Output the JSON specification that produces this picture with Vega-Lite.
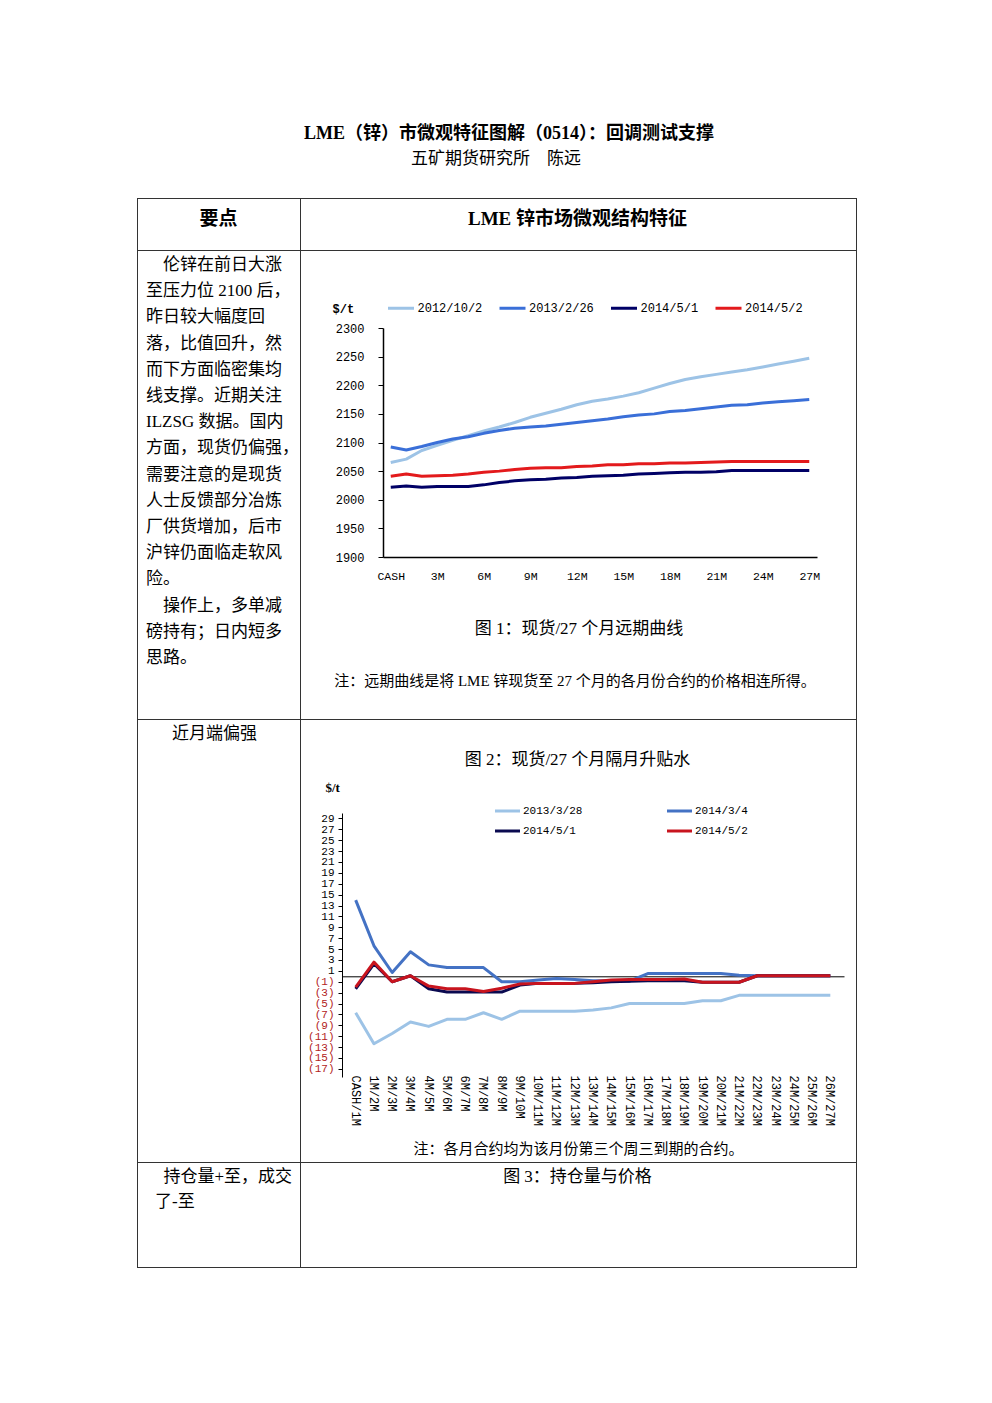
{
  "$schema": "https://vega.github.io/schema/vega-lite/v6.json",
  "background": "#ffffff",
  "padding": 0,
  "spacing": 0,
  "resolve": {"scale": {"color": "independent"}, "legend": {"color": "independent"}},
  "config": {
    "view": {"stroke": null},
    "concat": {"spacing": 0},
    "axis": {"grid": false},
    "text": {"font": "Liberation Serif, Noto Sans CJK SC", "color": "#000000"}
  },
  "datasets": {
    "curve": [
      {"tenor":"CASH","date":"2012/10/2","price":2065},{"tenor":"1M","date":"2012/10/2","price":2071},{"tenor":"2M","date":"2012/10/2","price":2086},{"tenor":"3M","date":"2012/10/2","price":2095},{"tenor":"4M","date":"2012/10/2","price":2104},{"tenor":"5M","date":"2012/10/2","price":2112},{"tenor":"6M","date":"2012/10/2","price":2120},{"tenor":"7M","date":"2012/10/2","price":2127},{"tenor":"8M","date":"2012/10/2","price":2135},{"tenor":"9M","date":"2012/10/2","price":2144},{"tenor":"10M","date":"2012/10/2","price":2151},{"tenor":"11M","date":"2012/10/2","price":2158},{"tenor":"12M","date":"2012/10/2","price":2166},{"tenor":"13M","date":"2012/10/2","price":2172},{"tenor":"14M","date":"2012/10/2","price":2176},{"tenor":"15M","date":"2012/10/2","price":2181},{"tenor":"16M","date":"2012/10/2","price":2187},{"tenor":"17M","date":"2012/10/2","price":2195},{"tenor":"18M","date":"2012/10/2","price":2203},{"tenor":"19M","date":"2012/10/2","price":2210},{"tenor":"20M","date":"2012/10/2","price":2215},{"tenor":"21M","date":"2012/10/2","price":2219},{"tenor":"22M","date":"2012/10/2","price":2223},{"tenor":"23M","date":"2012/10/2","price":2227},{"tenor":"24M","date":"2012/10/2","price":2232},{"tenor":"25M","date":"2012/10/2","price":2237},{"tenor":"26M","date":"2012/10/2","price":2242},{"tenor":"27M","date":"2012/10/2","price":2247},
      {"tenor":"CASH","date":"2013/2/26","price":2092},{"tenor":"1M","date":"2013/2/26","price":2087},{"tenor":"2M","date":"2013/2/26","price":2093},{"tenor":"3M","date":"2013/2/26","price":2100},{"tenor":"4M","date":"2013/2/26","price":2106},{"tenor":"5M","date":"2013/2/26","price":2110},{"tenor":"6M","date":"2013/2/26","price":2116},{"tenor":"7M","date":"2013/2/26","price":2121},{"tenor":"8M","date":"2013/2/26","price":2125},{"tenor":"9M","date":"2013/2/26","price":2127},{"tenor":"10M","date":"2013/2/26","price":2129},{"tenor":"11M","date":"2013/2/26","price":2132},{"tenor":"12M","date":"2013/2/26","price":2135},{"tenor":"13M","date":"2013/2/26","price":2138},{"tenor":"14M","date":"2013/2/26","price":2141},{"tenor":"15M","date":"2013/2/26","price":2145},{"tenor":"16M","date":"2013/2/26","price":2148},{"tenor":"17M","date":"2013/2/26","price":2150},{"tenor":"18M","date":"2013/2/26","price":2154},{"tenor":"19M","date":"2013/2/26","price":2156},{"tenor":"20M","date":"2013/2/26","price":2159},{"tenor":"21M","date":"2013/2/26","price":2162},{"tenor":"22M","date":"2013/2/26","price":2165},{"tenor":"23M","date":"2013/2/26","price":2166},{"tenor":"24M","date":"2013/2/26","price":2169},{"tenor":"25M","date":"2013/2/26","price":2171},{"tenor":"26M","date":"2013/2/26","price":2173},{"tenor":"27M","date":"2013/2/26","price":2175},
      {"tenor":"CASH","date":"2014/5/1","price":2022},{"tenor":"1M","date":"2014/5/1","price":2024},{"tenor":"2M","date":"2014/5/1","price":2022},{"tenor":"3M","date":"2014/5/1","price":2023},{"tenor":"4M","date":"2014/5/1","price":2023},{"tenor":"5M","date":"2014/5/1","price":2023},{"tenor":"6M","date":"2014/5/1","price":2026},{"tenor":"7M","date":"2014/5/1","price":2030},{"tenor":"8M","date":"2014/5/1","price":2033},{"tenor":"9M","date":"2014/5/1","price":2035},{"tenor":"10M","date":"2014/5/1","price":2036},{"tenor":"11M","date":"2014/5/1","price":2038},{"tenor":"12M","date":"2014/5/1","price":2039},{"tenor":"13M","date":"2014/5/1","price":2041},{"tenor":"14M","date":"2014/5/1","price":2042},{"tenor":"15M","date":"2014/5/1","price":2043},{"tenor":"16M","date":"2014/5/1","price":2045},{"tenor":"17M","date":"2014/5/1","price":2046},{"tenor":"18M","date":"2014/5/1","price":2047},{"tenor":"19M","date":"2014/5/1","price":2048},{"tenor":"20M","date":"2014/5/1","price":2048},{"tenor":"21M","date":"2014/5/1","price":2049},{"tenor":"22M","date":"2014/5/1","price":2051},{"tenor":"23M","date":"2014/5/1","price":2051},{"tenor":"24M","date":"2014/5/1","price":2051},{"tenor":"25M","date":"2014/5/1","price":2051},{"tenor":"26M","date":"2014/5/1","price":2051},{"tenor":"27M","date":"2014/5/1","price":2051},
      {"tenor":"CASH","date":"2014/5/2","price":2041},{"tenor":"1M","date":"2014/5/2","price":2045},{"tenor":"2M","date":"2014/5/2","price":2041},{"tenor":"3M","date":"2014/5/2","price":2042},{"tenor":"4M","date":"2014/5/2","price":2043},{"tenor":"5M","date":"2014/5/2","price":2045},{"tenor":"6M","date":"2014/5/2","price":2048},{"tenor":"7M","date":"2014/5/2","price":2050},{"tenor":"8M","date":"2014/5/2","price":2053},{"tenor":"9M","date":"2014/5/2","price":2055},{"tenor":"10M","date":"2014/5/2","price":2056},{"tenor":"11M","date":"2014/5/2","price":2056},{"tenor":"12M","date":"2014/5/2","price":2058},{"tenor":"13M","date":"2014/5/2","price":2059},{"tenor":"14M","date":"2014/5/2","price":2061},{"tenor":"15M","date":"2014/5/2","price":2061},{"tenor":"16M","date":"2014/5/2","price":2063},{"tenor":"17M","date":"2014/5/2","price":2063},{"tenor":"18M","date":"2014/5/2","price":2064},{"tenor":"19M","date":"2014/5/2","price":2064},{"tenor":"20M","date":"2014/5/2","price":2065},{"tenor":"21M","date":"2014/5/2","price":2066},{"tenor":"22M","date":"2014/5/2","price":2067},{"tenor":"23M","date":"2014/5/2","price":2067},{"tenor":"24M","date":"2014/5/2","price":2067},{"tenor":"25M","date":"2014/5/2","price":2067},{"tenor":"26M","date":"2014/5/2","price":2067},{"tenor":"27M","date":"2014/5/2","price":2067}
    ],
    "spread": [
      {"pair":"CASH/1M","date":"2013/3/28","spread":-6.7},{"pair":"1M/2M","date":"2013/3/28","spread":-12.4},{"pair":"2M/3M","date":"2013/3/28","spread":-10.5},{"pair":"3M/4M","date":"2013/3/28","spread":-8.4},{"pair":"4M/5M","date":"2013/3/28","spread":-9.2},{"pair":"5M/6M","date":"2013/3/28","spread":-7.9},{"pair":"6M/7M","date":"2013/3/28","spread":-7.9},{"pair":"7M/8M","date":"2013/3/28","spread":-6.7},{"pair":"8M/9M","date":"2013/3/28","spread":-7.9},{"pair":"9M/10M","date":"2013/3/28","spread":-6.4},{"pair":"10M/11M","date":"2013/3/28","spread":-6.4},{"pair":"11M/12M","date":"2013/3/28","spread":-6.4},{"pair":"12M/13M","date":"2013/3/28","spread":-6.4},{"pair":"13M/14M","date":"2013/3/28","spread":-6.2},{"pair":"14M/15M","date":"2013/3/28","spread":-5.8},{"pair":"15M/16M","date":"2013/3/28","spread":-5.0},{"pair":"16M/17M","date":"2013/3/28","spread":-5.0},{"pair":"17M/18M","date":"2013/3/28","spread":-5.0},{"pair":"18M/19M","date":"2013/3/28","spread":-5.0},{"pair":"19M/20M","date":"2013/3/28","spread":-4.5},{"pair":"20M/21M","date":"2013/3/28","spread":-4.5},{"pair":"21M/22M","date":"2013/3/28","spread":-3.5},{"pair":"22M/23M","date":"2013/3/28","spread":-3.5},{"pair":"23M/24M","date":"2013/3/28","spread":-3.5},{"pair":"24M/25M","date":"2013/3/28","spread":-3.5},{"pair":"25M/26M","date":"2013/3/28","spread":-3.5},{"pair":"26M/27M","date":"2013/3/28","spread":-3.5},
      {"pair":"CASH/1M","date":"2014/3/4","spread":14.0},{"pair":"1M/2M","date":"2014/3/4","spread":5.6},{"pair":"2M/3M","date":"2014/3/4","spread":0.7},{"pair":"3M/4M","date":"2014/3/4","spread":4.5},{"pair":"4M/5M","date":"2014/3/4","spread":2.1},{"pair":"5M/6M","date":"2014/3/4","spread":1.6},{"pair":"6M/7M","date":"2014/3/4","spread":1.6},{"pair":"7M/8M","date":"2014/3/4","spread":1.6},{"pair":"8M/9M","date":"2014/3/4","spread":-1.0},{"pair":"9M/10M","date":"2014/3/4","spread":-1.0},{"pair":"10M/11M","date":"2014/3/4","spread":-0.7},{"pair":"11M/12M","date":"2014/3/4","spread":-0.4},{"pair":"12M/13M","date":"2014/3/4","spread":-0.6},{"pair":"13M/14M","date":"2014/3/4","spread":-0.8},{"pair":"14M/15M","date":"2014/3/4","spread":-0.8},{"pair":"15M/16M","date":"2014/3/4","spread":-0.9},{"pair":"16M/17M","date":"2014/3/4","spread":0.5},{"pair":"17M/18M","date":"2014/3/4","spread":0.5},{"pair":"18M/19M","date":"2014/3/4","spread":0.5},{"pair":"19M/20M","date":"2014/3/4","spread":0.5},{"pair":"20M/21M","date":"2014/3/4","spread":0.5},{"pair":"21M/22M","date":"2014/3/4","spread":0.2},{"pair":"22M/23M","date":"2014/3/4","spread":0.1},{"pair":"23M/24M","date":"2014/3/4","spread":0.1},{"pair":"24M/25M","date":"2014/3/4","spread":0.1},{"pair":"25M/26M","date":"2014/3/4","spread":0.1},{"pair":"26M/27M","date":"2014/3/4","spread":0.1},
      {"pair":"CASH/1M","date":"2014/5/1","spread":-2.3},{"pair":"1M/2M","date":"2014/5/1","spread":2.3},{"pair":"2M/3M","date":"2014/5/1","spread":-1.0},{"pair":"3M/4M","date":"2014/5/1","spread":0.1},{"pair":"4M/5M","date":"2014/5/1","spread":-2.3},{"pair":"5M/6M","date":"2014/5/1","spread":-2.9},{"pair":"6M/7M","date":"2014/5/1","spread":-2.9},{"pair":"7M/8M","date":"2014/5/1","spread":-2.9},{"pair":"8M/9M","date":"2014/5/1","spread":-2.9},{"pair":"9M/10M","date":"2014/5/1","spread":-1.6},{"pair":"10M/11M","date":"2014/5/1","spread":-1.3},{"pair":"11M/12M","date":"2014/5/1","spread":-1.3},{"pair":"12M/13M","date":"2014/5/1","spread":-1.3},{"pair":"13M/14M","date":"2014/5/1","spread":-1.2},{"pair":"14M/15M","date":"2014/5/1","spread":-1.0},{"pair":"15M/16M","date":"2014/5/1","spread":-0.9},{"pair":"16M/17M","date":"2014/5/1","spread":-0.8},{"pair":"17M/18M","date":"2014/5/1","spread":-0.8},{"pair":"18M/19M","date":"2014/5/1","spread":-0.8},{"pair":"19M/20M","date":"2014/5/1","spread":-1.1},{"pair":"20M/21M","date":"2014/5/1","spread":-1.1},{"pair":"21M/22M","date":"2014/5/1","spread":-1.1},{"pair":"22M/23M","date":"2014/5/1","spread":0.1},{"pair":"23M/24M","date":"2014/5/1","spread":0.1},{"pair":"24M/25M","date":"2014/5/1","spread":0.1},{"pair":"25M/26M","date":"2014/5/1","spread":0.1},{"pair":"26M/27M","date":"2014/5/1","spread":0.1},
      {"pair":"CASH/1M","date":"2014/5/2","spread":-2.0},{"pair":"1M/2M","date":"2014/5/2","spread":2.6},{"pair":"2M/3M","date":"2014/5/2","spread":-1.0},{"pair":"3M/4M","date":"2014/5/2","spread":0.1},{"pair":"4M/5M","date":"2014/5/2","spread":-1.8},{"pair":"5M/6M","date":"2014/5/2","spread":-2.3},{"pair":"6M/7M","date":"2014/5/2","spread":-2.3},{"pair":"7M/8M","date":"2014/5/2","spread":-2.8},{"pair":"8M/9M","date":"2014/5/2","spread":-2.2},{"pair":"9M/10M","date":"2014/5/2","spread":-1.4},{"pair":"10M/11M","date":"2014/5/2","spread":-1.3},{"pair":"11M/12M","date":"2014/5/2","spread":-1.3},{"pair":"12M/13M","date":"2014/5/2","spread":-1.3},{"pair":"13M/14M","date":"2014/5/2","spread":-1.0},{"pair":"14M/15M","date":"2014/5/2","spread":-0.7},{"pair":"15M/16M","date":"2014/5/2","spread":-0.6},{"pair":"16M/17M","date":"2014/5/2","spread":-0.6},{"pair":"17M/18M","date":"2014/5/2","spread":-0.6},{"pair":"18M/19M","date":"2014/5/2","spread":-0.5},{"pair":"19M/20M","date":"2014/5/2","spread":-1.1},{"pair":"20M/21M","date":"2014/5/2","spread":-1.1},{"pair":"21M/22M","date":"2014/5/2","spread":-1.1},{"pair":"22M/23M","date":"2014/5/2","spread":0.1},{"pair":"23M/24M","date":"2014/5/2","spread":0.1},{"pair":"24M/25M","date":"2014/5/2","spread":0.1},{"pair":"25M/26M","date":"2014/5/2","spread":0.1},{"pair":"26M/27M","date":"2014/5/2","spread":0.1}
    ]
  },
  "vconcat": [
    {
      "width": 992, "height": 198,
      "layer": [
        {"data": {"values": [{"t": "LME（锌）市微观特征图解（0514）：回调测试支撑"}]}, "mark": {"type": "text", "fontSize": 18, "fontWeight": "bold", "baseline": "middle", "dx": 13, "dy": 35}, "encoding": {"text": {"field": "t"}}},
        {"data": {"values": [{"t": "五矿期货研究所　陈远"}]}, "mark": {"type": "text", "fontSize": 17, "baseline": "middle", "dx": 0, "dy": 60}, "encoding": {"text": {"field": "t"}}}
      ]
    },
    {"spacing": 0, "hconcat": [
      {"width": 137, "height": 1, "mark": "point", "data": {"values": []}},
      {"width": 720, "height": 1, "view": {"fill": "#333333", "stroke": null}, "mark": "point", "data": {"values": []}}
    ]},
    {"spacing": 0, "hconcat": [
      {"width": 137, "height": 51, "mark": "point", "data": {"values": []}},
      {"width": 1, "height": 51, "view": {"fill": "#333333", "stroke": null}, "mark": "point", "data": {"values": []}},
      {"width": 162, "height": 51, "data": {"values": [{"t": "要点"}]}, "mark": {"type": "text", "fontSize": 19, "fontWeight": "bold", "baseline": "middle", "dx": -0.5, "dy": -5.5}, "encoding": {"text": {"field": "t"}}},
      {"width": 1, "height": 51, "view": {"fill": "#333333", "stroke": null}, "mark": "point", "data": {"values": []}},
      {"width": 555, "height": 51, "data": {"values": [{"t": "LME 锌市场微观结构特征"}]}, "mark": {"type": "text", "fontSize": 19, "fontWeight": "bold", "baseline": "middle", "dx": -1, "dy": -5.5}, "encoding": {"text": {"field": "t"}}},
      {"width": 1, "height": 51, "view": {"fill": "#333333", "stroke": null}, "mark": "point", "data": {"values": []}}
    ]},
    {"spacing": 0, "hconcat": [
      {"width": 137, "height": 1, "mark": "point", "data": {"values": []}},
      {"width": 720, "height": 1, "view": {"fill": "#333333", "stroke": null}, "mark": "point", "data": {"values": []}}
    ]},
    {"spacing": 0,
     "resolve": {"scale": {"color": "independent"}, "legend": {"color": "independent"}},
     "hconcat": [
      {"width": 137, "height": 468, "mark": "point", "data": {"values": []}},
      {"width": 1, "height": 468, "view": {"fill": "#333333", "stroke": null}, "mark": "point", "data": {"values": []}},
      {"width": 162, "height": 468, "data": {"values": [{"t": "\u200b\u3000伦锌在前日大涨\n至压力位 2100 后，\n昨日较大幅度回\n落，比值回升，然\n而下方面临密集均\n线支撑。近期关注\nILZSG 数据。国内\n方面，现货仍偏强，\n需要注意的是现货\n人士反馈部分冶炼\n厂供货增加，后市\n沪锌仍面临走软风\n险。\n\u200b\u3000操作上，多单减\n磅持有；日内短多\n思路。"}]}, "mark": {"type": "text", "fontSize": 17, "align": "left", "baseline": "top", "lineBreak": "\n", "lineHeight": 26.2, "dx": -73, "dy": -228}, "encoding": {"text": {"field": "t"}}},
      {"width": 1, "height": 468, "view": {"fill": "#333333", "stroke": null}, "mark": "point", "data": {"values": []}},
      {
        "width": 555, "height": 468,
        "layer": [
          {
            "data": {"name": "curve"},
            "mark": {"type": "line", "strokeWidth": 3, "strokeJoin": "round"},
            "encoding": {
              "x": {"field": "tenor", "type": "ordinal",
                "sort": ["CASH","1M","2M","3M","4M","5M","6M","7M","8M","9M","10M","11M","12M","13M","14M","15M","16M","17M","18M","19M","20M","21M","22M","23M","24M","25M","26M","27M"],
                "scale": {"range": [82, 516], "padding": 0.5},
                "axis": {"orient": "bottom", "offset": -162, "values": ["CASH","3M","6M","9M","12M","15M","18M","21M","24M","27M"], "ticks": false, "domainColor": "#000000", "domainWidth": 1.5, "labelFont": "Liberation Mono", "labelFontSize": 11.5, "labelColor": "#000000", "labelPadding": 13, "labelAngle": 0, "labelOverlap": false, "title": null}},
              "y": {"field": "price", "type": "quantitative",
                "scale": {"domain": [1900, 2300], "range": [306, 77], "zero": false, "nice": false},
                "axis": {"orient": "left", "offset": -82, "values": [1900,1950,2000,2050,2100,2150,2200,2250,2300], "format": "d", "tickSize": 5, "tickColor": "#000000", "domainColor": "#000000", "domainWidth": 1.5, "labelFont": "Liberation Mono", "labelFontSize": 12, "labelColor": "#000000", "labelPadding": 14, "labelOverlap": false, "title": "$/t", "titleAngle": 0, "titleX": -51, "titleY": 57, "titleAlign": "left", "titleBaseline": "middle", "titleFont": "Liberation Mono", "titleFontSize": 12, "titleFontWeight": "bold", "titleColor": "#000000"}},
              "color": {"field": "date", "type": "nominal",
                "scale": {"domain": ["2012/10/2","2013/2/26","2014/5/1","2014/5/2"], "range": ["#9DC3E6","#3A6FD8","#000066","#E31A1C"]},
                "legend": {"orient": "none", "legendX": 85.5, "legendY": 42.5, "direction": "horizontal", "title": null, "symbolType": "stroke", "symbolSize": 676, "symbolStrokeWidth": 3, "labelFont": "Liberation Mono", "labelFontSize": 12, "labelColor": "#000000", "labelOffset": 2, "columnPadding": 10.5, "padding": 0}}
            }
          },
          {"data": {"values": [{"t": "图 1：现货/27 个月远期曲线"}]}, "mark": {"type": "text", "fontSize": 17, "baseline": "middle", "dx": 0.5, "dy": 144}, "encoding": {"text": {"field": "t"}}},
          {"data": {"values": [{"t": "注：远期曲线是将 LME 锌现货至 27 个月的各月份合约的价格相连所得。"}]}, "mark": {"type": "text", "fontSize": 15, "baseline": "middle", "dx": -3.5, "dy": 196}, "encoding": {"text": {"field": "t"}}}
        ]
      },
      {"width": 1, "height": 468, "view": {"fill": "#333333", "stroke": null}, "mark": "point", "data": {"values": []}}
    ]},
    {"spacing": 0, "hconcat": [
      {"width": 137, "height": 1, "mark": "point", "data": {"values": []}},
      {"width": 720, "height": 1, "view": {"fill": "#333333", "stroke": null}, "mark": "point", "data": {"values": []}}
    ]},
    {"spacing": 0,
     "resolve": {"scale": {"color": "independent"}, "legend": {"color": "independent"}},
     "hconcat": [
      {"width": 137, "height": 442, "mark": "point", "data": {"values": []}},
      {"width": 1, "height": 442, "view": {"fill": "#333333", "stroke": null}, "mark": "point", "data": {"values": []}},
      {"width": 162, "height": 442, "data": {"values": [{"t": "近月端偏强"}]}, "mark": {"type": "text", "fontSize": 17, "align": "left", "baseline": "middle", "dx": -47, "dy": -207}, "encoding": {"text": {"field": "t"}}},
      {"width": 1, "height": 442, "view": {"fill": "#333333", "stroke": null}, "mark": "point", "data": {"values": []}},
      {
        "width": 555, "height": 442,
        "resolve": {"axis": {"x": "independent"}},
        "layer": [
          {
            "data": {"name": "spread"},
            "mark": {"type": "line", "strokeWidth": 3, "strokeJoin": "round"},
            "encoding": {
              "x": {"field": "pair", "type": "ordinal",
                "sort": ["CASH/1M","1M/2M","2M/3M","3M/4M","4M/5M","5M/6M","6M/7M","7M/8M","8M/9M","9M/10M","10M/11M","11M/12M","12M/13M","13M/14M","14M/15M","15M/16M","16M/17M","17M/18M","18M/19M","19M/20M","20M/21M","21M/22M","22M/23M","23M/24M","24M/25M","25M/26M","26M/27M"],
                "scale": {"domain": ["CASH/1M","1M/2M","2M/3M","3M/4M","4M/5M","5M/6M","6M/7M","7M/8M","8M/9M","9M/10M","10M/11M","11M/12M","12M/13M","13M/14M","14M/15M","15M/16M","16M/17M","17M/18M","18M/19M","19M/20M","20M/21M","21M/22M","22M/23M","23M/24M","24M/25M","25M/26M","26M/27M"], "range": [41, 543], "padding": 0.5},
                "axis": {"orient": "bottom", "offset": -87, "domain": false, "ticks": false, "labelAngle": 90, "labelAlign": "left", "labelBaseline": "middle", "labelFont": "Liberation Mono", "labelFontSize": 12, "labelColor": "#000000", "labelPadding": 0, "labelOverlap": false, "title": null}},
              "y": {"field": "spread", "type": "quantitative",
                "scale": {"domain": [-18.5, 30], "range": [357, 93], "zero": false, "nice": false},
                "axis": {"orient": "left", "offset": -41, "values": [29,27,25,23,21,19,17,15,13,11,9,7,5,3,1,-1,-3,-5,-7,-9,-11,-13,-15,-17],
                  "labelExpr": "datum.value < 0 ? '(' + (-datum.value) + ')' : '' + datum.value",
                  "labelColor": {"condition": {"test": "datum.value < 0", "value": "#B22222"}, "value": "#000000"},
                  "tickSize": 4, "tickColor": "#000000", "domainColor": "#000000", "domainWidth": 1, "labelFont": "Liberation Mono", "labelFontSize": 11, "labelPadding": 4, "labelOverlap": false,
                  "title": "$/t", "titleAngle": 0, "titleX": -17, "titleY": 67, "titleAlign": "left", "titleBaseline": "middle", "titleFont": "Liberation Serif", "titleFontSize": 13, "titleFontWeight": "bold", "titleColor": "#000000"}},
              "color": {"field": "date", "type": "nominal",
                "scale": {"domain": ["2013/3/28","2014/3/4","2014/5/1","2014/5/2"], "range": ["#9DC3E6","#4472C4","#0A0A50","#C8141E"]},
                "legend": {"orient": "none", "legendX": 192.5, "legendY": 77, "columns": 2, "direction": "horizontal", "title": null, "symbolType": "stroke", "symbolSize": 625, "symbolStrokeWidth": 3, "labelFont": "Liberation Mono", "labelFontSize": 11, "labelColor": "#000000", "labelOffset": 1.5, "columnPadding": 78, "rowPadding": -6, "padding": 0}}
            }
          },
          {
            "data": {"values": []},
            "mark": "rule",
            "encoding": {
              "x": {"field": "pair", "type": "ordinal",
                "scale": {"domain": ["CASH/1M","1M/2M","2M/3M","3M/4M","4M/5M","5M/6M","6M/7M","7M/8M","8M/9M","9M/10M","10M/11M","11M/12M","12M/13M","13M/14M","14M/15M","15M/16M","16M/17M","17M/18M","18M/19M","19M/20M","20M/21M","21M/22M","22M/23M","23M/24M","24M/25M","25M/26M","26M/27M"], "range": [41, 543], "padding": 0.5},
                "axis": {"orient": "bottom", "offset": -185.7, "domain": true, "domainColor": "#000000", "domainWidth": 1, "ticks": false, "labels": false, "title": null}}
            }
          },
          {"data": {"values": [{"t": "图 2：现货/27 个月隔月升贴水"}]}, "mark": {"type": "text", "fontSize": 17, "baseline": "middle", "dx": -1, "dy": -181}, "encoding": {"text": {"field": "t"}}},
          {"data": {"values": [{"t": "注：各月合约均为该月份第三个周三到期的合约。"}]}, "mark": {"type": "text", "fontSize": 15, "baseline": "middle", "dx": 0, "dy": 208}, "encoding": {"text": {"field": "t"}}}
        ]
      },
      {"width": 1, "height": 442, "view": {"fill": "#333333", "stroke": null}, "mark": "point", "data": {"values": []}}
    ]},
    {"spacing": 0, "hconcat": [
      {"width": 137, "height": 1, "mark": "point", "data": {"values": []}},
      {"width": 720, "height": 1, "view": {"fill": "#333333", "stroke": null}, "mark": "point", "data": {"values": []}}
    ]},
    {"spacing": 0, "hconcat": [
      {"width": 137, "height": 104, "mark": "point", "data": {"values": []}},
      {"width": 1, "height": 104, "view": {"fill": "#333333", "stroke": null}, "mark": "point", "data": {"values": []}},
      {"width": 162, "height": 104, "data": {"values": [{"t": "\u200b\u2002持仓量+至，成交\n了-至"}]}, "mark": {"type": "text", "fontSize": 17, "align": "left", "baseline": "top", "lineBreak": "\n", "lineHeight": 25, "dx": -64, "dy": -46}, "encoding": {"text": {"field": "t"}}},
      {"width": 1, "height": 104, "view": {"fill": "#333333", "stroke": null}, "mark": "point", "data": {"values": []}},
      {"width": 555, "height": 104, "data": {"values": [{"t": "图 3：持仓量与价格"}]}, "mark": {"type": "text", "fontSize": 17, "baseline": "middle", "dx": -1, "dy": -38}, "encoding": {"text": {"field": "t"}}},
      {"width": 1, "height": 104, "view": {"fill": "#333333", "stroke": null}, "mark": "point", "data": {"values": []}}
    ]},
    {"spacing": 0, "hconcat": [
      {"width": 137, "height": 1, "mark": "point", "data": {"values": []}},
      {"width": 720, "height": 1, "view": {"fill": "#333333", "stroke": null}, "mark": "point", "data": {"values": []}}
    ]}
  ]
}
